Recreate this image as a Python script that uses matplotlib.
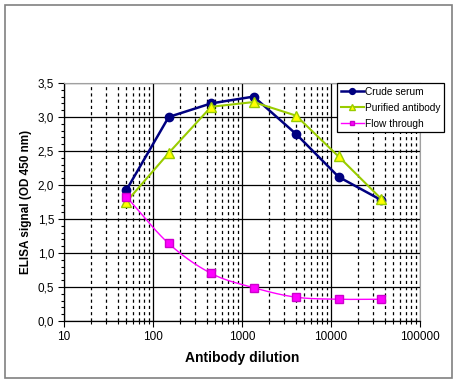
import numpy as np
import matplotlib
matplotlib.use("Agg")
import matplotlib.pyplot as plt
from matplotlib.ticker import LogLocator, FixedLocator, FuncFormatter, MultipleLocator
from matplotlib.patches import Rectangle

plt.rcParams['font.family'] = ['Liberation Sans', 'DejaVu Sans']

dilution = [50, 150, 450, 1350, 4050, 12150, 36450]
crude_serum = [1.92, 3.00, 3.20, 3.30, 2.75, 2.12, 1.78]
purified_antibody = [1.75, 2.47, 3.15, 3.22, 3.02, 2.42, 1.80]
flow_through = [1.83, 1.14, 0.70, 0.49, 0.35, 0.32, 0.32]
x_ticks = [10, 100, 1000, 10000, 100000]
x_tick_labels = ["10", "100", "1000", "10000", "100000"]
y_ticks = [0.0, 0.5, 1.0, 1.5, 2.0, 2.5, 3.0, 3.5]

fig = plt.figure(figsize=(4.58, 3.84), dpi=100)
fig.patch.set_facecolor('white')
fig.patches.append(Rectangle((5/458, 1-378/384), 447/458, 373/384, transform=fig.transFigure,
                             fill=False, edgecolor='#808080', linewidth=1.2))
ax = fig.add_axes([64/458, 1-321/384, 356/458, 238/384])

ax.set_xscale('log')
ax.set_xlim(10, 100000)
ax.set_ylim(0, 3.5)
ax.xaxis.set_major_locator(FixedLocator(x_ticks))
ax.xaxis.set_minor_locator(LogLocator(base=10, subs=np.arange(2, 10), numticks=20))
ax.xaxis.set_major_formatter(FuncFormatter(lambda v, p: x_tick_labels[x_ticks.index(int(round(v)))] if int(round(v)) in x_ticks else ""))
ax.xaxis.set_minor_formatter(FuncFormatter(lambda v, p: ""))
ax.yaxis.set_major_locator(FixedLocator(y_ticks))
ax.yaxis.set_minor_locator(MultipleLocator(0.1))
ax.yaxis.set_major_formatter(FuncFormatter(lambda v, p: f"{v:.1f}".replace('.', ',')))

ax.grid(which='major', axis='both', color='black', linewidth=0.9, linestyle='-')
ax.grid(which='minor', axis='x', color='black', linewidth=0.9, linestyle=(0, (2.5, 2.5)))
ax.set_axisbelow(True)

ax.tick_params(axis='both', which='major', direction='out', length=4, width=0.8, labelsize=8.5, pad=3)
ax.tick_params(axis='both', which='minor', direction='out', length=2.5, width=0.8)
for s in ['top', 'right']:
    ax.spines[s].set_color('#a0a0a0')
    ax.spines[s].set_linewidth(0.8)
for s in ['left', 'bottom']:
    ax.spines[s].set_color('black')
    ax.spines[s].set_linewidth(0.9)

# Crude serum
ax.plot(dilution, crude_serum, color='#000080', linewidth=1.8, marker='o', markersize=6,
        markerfacecolor='#000080', markeredgecolor='#000080', label='Crude serum', zorder=4)
# Purified antibody
ax.plot(dilution, purified_antibody, color='#99CC00', linewidth=1.5, marker='^', markersize=7,
        markerfacecolor='#FFFF00', markeredgecolor='#99CC00', label='Purified antibody', zorder=5)

# Flow through: smoothed line (Catmull-Rom in log-x space, as Excel smoothing)
lx = np.log10(dilution)
fy = np.array(flow_through)
pts = np.column_stack([lx, fy])
ext = np.vstack([2*pts[0]-pts[1], pts, 2*pts[-1]-pts[-2]])
curve = []
for i in range(1, len(ext)-2):
    p0, p1, p2, p3 = ext[i-1], ext[i], ext[i+1], ext[i+2]
    t = np.linspace(0, 1, 30)[:, None]
    c = 0.5*((2*p1) + (-p0+p2)*t + (2*p0-5*p1+4*p2-p3)*t**2 + (-p0+3*p1-3*p2+p3)*t**3)
    curve.append(c)
curve = np.vstack(curve)
ax.plot(10**curve[:, 0], curve[:, 1], color='#FF00FF', linewidth=1.0, zorder=3)
ax.plot(dilution, flow_through, linestyle='none', marker='s', markersize=6,
        markerfacecolor='#FF00FF', markeredgecolor='#CC00CC', zorder=6)
ax.plot([], [], color='#FF00FF', linewidth=1.0, marker='s', markersize=4,
        markerfacecolor='#FF00FF', markeredgecolor='#CC00CC', label='Flow through')

ax.set_xlabel('Antibody dilution', fontsize=10, fontweight='bold', labelpad=6)
ax.set_ylabel('ELISA signal (OD 450 nm)', fontsize=8.5, fontweight='bold', labelpad=4)

handles, labels = ax.get_legend_handles_labels()
leg = fig.legend(handles, labels, loc='upper left', bbox_to_anchor=(337/458, 1-83/384),
                 bbox_transform=fig.transFigure, fontsize=7.3, frameon=True, fancybox=False,
                 edgecolor='black', framealpha=1, borderpad=0.35, labelspacing=0.6,
                 handlelength=2.3, handletextpad=0.15, borderaxespad=0, markerscale=0.7)
leg.get_frame().set_linewidth(0.9)

fig.savefig('out.png', dpi=100, facecolor='white')
